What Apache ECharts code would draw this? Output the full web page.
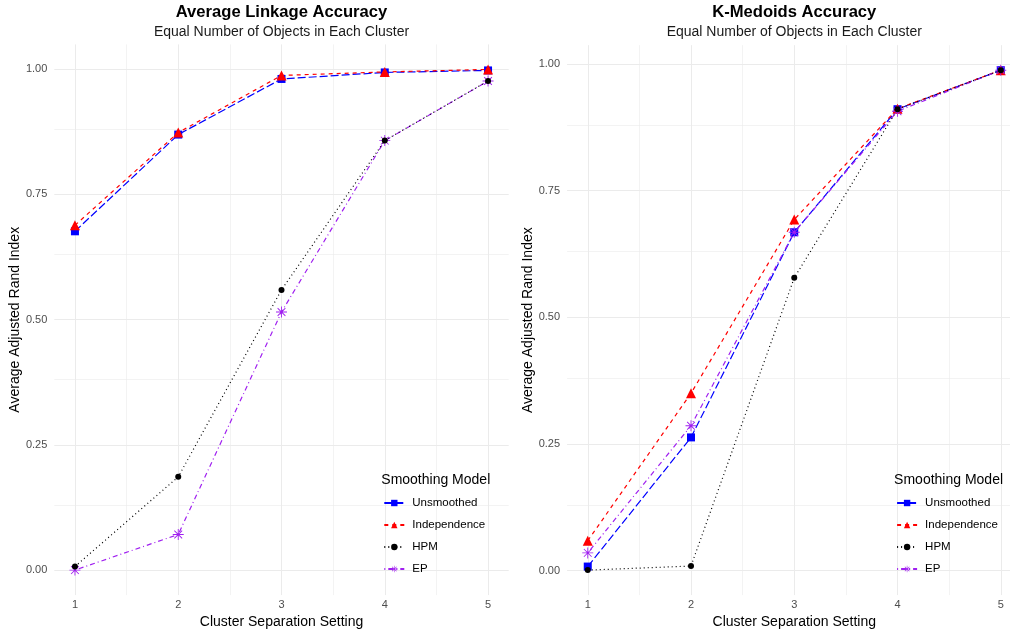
<!DOCTYPE html>
<html><head><meta charset="utf-8">
<script src="https://cdn.jsdelivr.net/npm/echarts@6/dist/echarts.min.js"></script>
<style>html,body{margin:0;padding:0;background:#fff;overflow:hidden}#c{width:1040px;height:634px}</style>
</head><body><div id="c"></div>
<script>
// ---- data ----
const settings = [1, 2, 3, 4, 5];
const xTicks = [1, 2, 3, 4, 5];
const yTicks = [0, 0.25, 0.5, 0.75, 1];
const seriesNames = ['Unsmoothed', 'Independence', 'HPM', 'EP'];
// Average Linkage panel
const alUnsmoothed   = [0.676, 0.869, 0.980, 0.993, 0.997];
const alIndependence = [0.688, 0.873, 0.987, 0.994, 0.999];
const alHPM          = [0.007, 0.186, 0.559, 0.857, 0.976];
const alEP           = [0.000, 0.071, 0.515, 0.857, 0.976];
// K-Medoids panel
const kmUnsmoothed   = [0.008, 0.263, 0.668, 0.911, 0.988];
const kmIndependence = [0.059, 0.350, 0.693, 0.912, 0.988];
const kmHPM          = [0.001, 0.009, 0.578, 0.911, 0.988];
const kmEP           = [0.035, 0.286, 0.668, 0.907, 0.988];

const FONT = '"Liberation Sans", Arial, sans-serif';
const asterisk = 'path://M9.2 0L10.8 0L10.8 20L9.2 20Z M0 9.2L20 9.2L20 10.8L0 10.8Z M2.36 3.5L3.5 2.36L17.64 16.5L16.5 17.64Z M16.5 2.36L17.64 3.5L3.5 17.64L2.36 16.5Z';
const styles = {
  Unsmoothed:   {color: '#0000FF', dash: [8, 3], symbol: 'rect', size: 8},
  Independence: {color: '#FF0000', dash: [4, 4], symbol: 'triangle', size: 10},
  HPM:          {color: '#000000', dash: [1, 3], symbol: 'circle', size: 6},
  EP:           {color: '#A020F0', dash: [1, 3, 5, 3], symbol: asterisk, size: 11}
};
const drawOrder = ['Unsmoothed', 'Independence', 'EP', 'HPM'];

const panels = [
  {title: 'Average Linkage Accuracy', left: 54.3, top: 44.4, width: 454.4, height: 552.5,
   ymin: -0.04995, ymax: 1.04895,
   data: {Unsmoothed: alUnsmoothed, Independence: alIndependence, HPM: alHPM, EP: alEP}},
  {title: 'K-Medoids Accuracy', left: 567.1, top: 45.2, width: 454.3, height: 551,
   ymin: -0.04835, ymax: 1.03735,
   data: {Unsmoothed: kmUnsmoothed, Independence: kmIndependence, HPM: kmHPM, EP: kmEP}}
];

const grid = [], xAxis = [], yAxis = [], series = [], title = [], legend = [];
panels.forEach((p, i) => {
  grid.push({left: p.left, top: p.top, width: p.width, height: p.height, containLabel: false});
  xAxis.push({type: 'value', gridIndex: i, min: 0.8, max: 5.2,
    name: 'Cluster Separation Setting', nameLocation: 'middle', nameGap: 17,
    nameTextStyle: {fontFamily: FONT, fontSize: 14, color: '#000'},
    axisLine: {show: false}, axisTick: {show: false}, splitLine: {show: false},
    axisLabel: {customValues: xTicks, margin: 4, fontFamily: FONT, fontSize: 11, color: '#4D4D4D'}});
  yAxis.push({type: 'value', gridIndex: i, min: p.ymin, max: p.ymax,
    name: 'Average Adjusted Rand Index', nameLocation: 'middle', nameGap: 30,
    nameTextStyle: {fontFamily: FONT, fontSize: 14, color: '#000'},
    axisLine: {show: false}, axisTick: {show: false}, splitLine: {show: false},
    axisLabel: {customValues: yTicks, margin: 7, fontFamily: FONT, fontSize: 11, color: '#4D4D4D',
      formatter: v => v.toFixed(2)}});
  const majorX = xTicks.map(v => ({xAxis: v, lineStyle: {width: 1, color: '#EBEBEB'}}));
  const minorX = [1.5, 2.5, 3.5, 4.5].map(v => ({xAxis: v, lineStyle: {width: 0.6, color: '#EBEBEB'}}));
  const majorY = yTicks.map(v => ({yAxis: v, lineStyle: {width: 1, color: '#EBEBEB'}}));
  const minorY = [0.125, 0.375, 0.625, 0.875].map(v => ({yAxis: v, lineStyle: {width: 0.6, color: '#EBEBEB'}}));
  series.push({type: 'line', xAxisIndex: i, yAxisIndex: i, data: [], z: 0, silent: true,
    markLine: {z: 0, silent: true, symbol: 'none', label: {show: false}, animation: false,
      lineStyle: {type: 'solid'}, data: [...minorX, ...minorY, ...majorX, ...majorY]}});
  drawOrder.forEach(name => {
    const s = styles[name];
    series.push({name, type: 'line', xAxisIndex: i, yAxisIndex: i, z: 3,
      data: settings.map((x, k) => [x, p.data[name][k]]),
      symbol: s.symbol, symbolSize: s.size, showAllSymbol: true,
      itemStyle: {color: s.color, borderWidth: 0, borderType: 'solid'},
      lineStyle: {color: s.color, width: 1.2, type: s.dash},
      animation: false});
  });
  const cx = p.left + p.width / 2 - 5;
  title.push({text: p.title, subtext: 'Equal Number of Objects in Each Cluster',
    left: cx, textAlign: 'center', top: -1, itemGap: 4,
    textStyle: {fontFamily: FONT, fontSize: 16.6, fontWeight: 'bold', color: '#000'},
    subtextStyle: {fontFamily: FONT, fontSize: 14, color: '#1A1A1A'}});
  title.push({text: 'Smoothing Model', left: p.left + 322, top: 468,
    textStyle: {fontFamily: FONT, fontSize: 14, fontWeight: 'normal', color: '#000'}});
  legend.push({orient: 'vertical', left: p.left + 324, top: 492, itemWidth: 20, itemHeight: 8,
    itemGap: 10, data: seriesNames, selectedMode: false,
    textStyle: {fontFamily: FONT, fontSize: 11.5, color: '#000', padding: [0, 0, 0, 3]}});
});

const chart = echarts.init(document.getElementById('c'), null, {renderer: 'canvas'});
chart.setOption({backgroundColor: '#fff', animation: false, grid, xAxis, yAxis, series, title, legend});
</script></body></html>
